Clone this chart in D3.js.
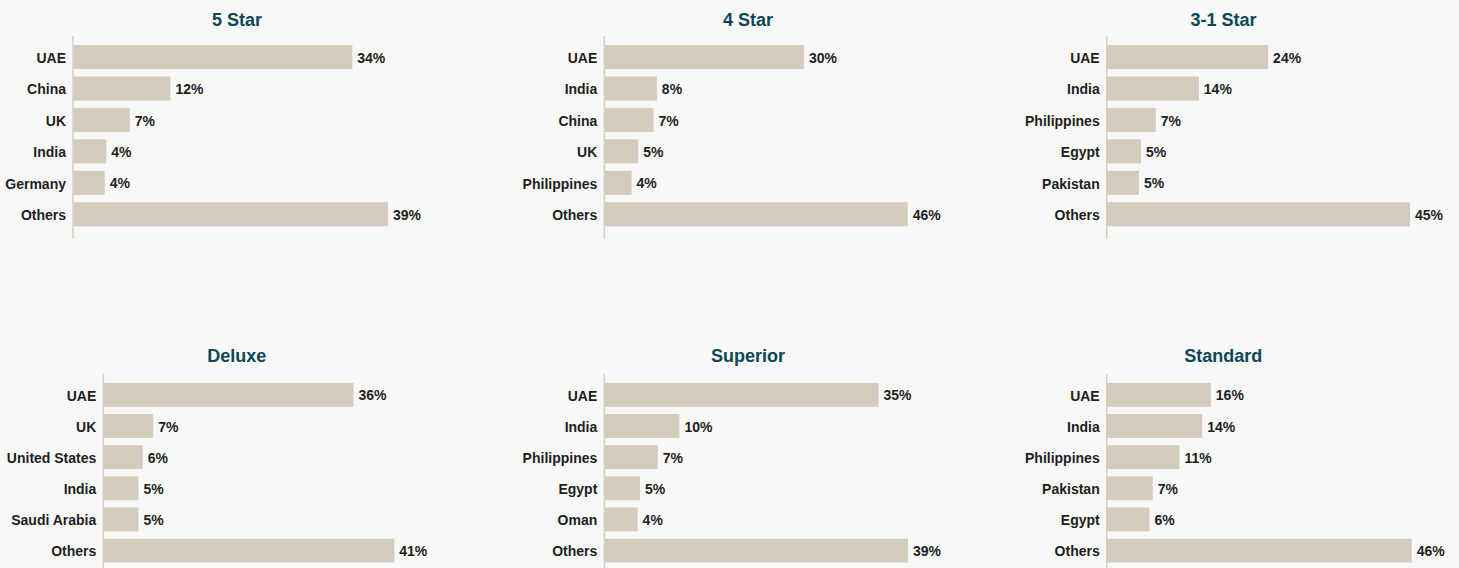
<!DOCTYPE html>
<html>
<head>
<meta charset="utf-8">
<script src="https://cdn.jsdelivr.net/npm/d3@7"></script>
<style>
  html, body { margin: 0; padding: 0; background: #f8f8f8; }
  svg { display: block; font-family: "Liberation Sans", Arial, sans-serif; }
</style>
</head>
<body>
<div id="chart"></div>
<script>
// panel titles
const titles = ["5 Star", "4 Star", "3-1 Star", "Deluxe", "Superior", "Standard"];

// categories per panel
const cats5Star = ["UAE", "China", "UK", "India", "Germany", "Others"];
const cats4Star = ["UAE", "India", "China", "UK", "Philippines", "Others"];
const cats31Star = ["UAE", "India", "Philippines", "Egypt", "Pakistan", "Others"];
const catsDeluxe = ["UAE", "UK", "United States", "India", "Saudi Arabia", "Others"];
const catsSuperior = ["UAE", "India", "Philippines", "Egypt", "Oman", "Others"];
const catsStandard = ["UAE", "India", "Philippines", "Pakistan", "Egypt", "Others"];

// share of guests, % (labels shown rounded)
const vals5Star = [34.4, 12.0, 7.0, 4.1, 3.9, 38.8];
const vals4Star = [30.0, 7.9, 7.4, 5.1, 4.1, 45.6];
const vals31Star = [24.0, 13.7, 7.3, 5.1, 4.8, 45.1];
const valsDeluxe = [35.6, 7.1, 5.6, 5.0, 5.0, 41.4];
const valsSuperior = [35.4, 9.7, 6.9, 4.6, 4.3, 39.2];
const valsStandard = [15.6, 14.3, 10.9, 6.9, 6.4, 45.7];

const categories = [cats5Star, cats4Star, cats31Star, catsDeluxe, catsSuperior, catsStandard];
const values = [vals5Star, vals4Star, vals31Star, valsDeluxe, valsSuperior, valsStandard];

const width = 1459, height = 568;

// layout of each small multiple
const layout = [
  {cx: 237, axisX: 73, maxLen: 315, row: 0},
  {cx: 748, axisX: 604.3, maxLen: 303.4, row: 0},
  {cx: 1223.5, axisX: 1106.7, maxLen: 303.3, row: 0},
  {cx: 236.7, axisX: 103.3, maxLen: 291, row: 1},
  {cx: 748, axisX: 604.3, maxLen: 303.7, row: 1},
  {cx: 1223.3, axisX: 1106.7, maxLen: 305, row: 1}
];
const rows = [
  {titleY: 26, axisTop: 36, axisBottom: 239, bandTop: 45, bandBottom: 226.3},
  {titleY: 362, axisTop: 374, axisBottom: 577, bandTop: 382.9, bandBottom: 562.5}
];

const svg = d3.select("#chart").append("svg")
  .attr("width", width)
  .attr("height", height)
  .attr("viewBox", [0, 0, width, height]);

svg.append("rect")
  .attr("width", width)
  .attr("height", height)
  .attr("fill", "#f8f8f8");

const fmt = d => d3.format(".0f")(d) + "%";

titles.forEach((title, i) => {
  const L = layout[i], R = rows[L.row];
  const data = categories[i].map((c, j) => ({cat: c, value: values[i][j]}));

  let x = d3.scaleLinear()
    .domain([0, d3.max(data, d => d.value)])
    .range([L.axisX, L.axisX + L.maxLen]);

  let y = d3.scaleBand()
    .domain(data.map(d => d.cat))
    .range([R.bandTop, R.bandBottom])
    .paddingInner(0.235)
    .paddingOuter(0);

  const g = svg.append("g");

  g.append("text")
    .attr("x", L.cx)
    .attr("y", R.titleY)
    .attr("text-anchor", "middle")
    .attr("fill", "#0d4757")
    .attr("font-size", 18)
    .attr("font-weight", "bold")
    .text(title);

  g.selectAll("rect.bar")
    .data(data)
    .join("rect")
    .attr("class", "bar")
    .attr("x", x(0))
    .attr("y", d => y(d.cat))
    .attr("width", d => x(d.value) - x(0))
    .attr("height", y.bandwidth())
    .attr("fill", "#d3cbbc");

  // category axis, tick labels only plus a plain vertical line
  const gy = g.append("g")
    .attr("transform", `translate(${L.axisX},0)`)
    .call(d3.axisLeft(y).tickSize(0).tickPadding(7))
    .call(g => g.select(".domain").remove());
  gy.selectAll(".tick text")
    .attr("dy", "0.42em")
    .attr("font-size", 14)
    .attr("font-weight", "bold")
    .attr("font-family", "'Liberation Sans', Arial, sans-serif")
    .attr("fill", "#1e1e1e");

  g.append("line")
    .attr("x1", L.axisX).attr("x2", L.axisX)
    .attr("y1", R.axisTop).attr("y2", R.axisBottom)
    .attr("stroke", "#d8cfc0")
    .attr("stroke-width", 1.5);

  g.selectAll("text.value")
    .data(data)
    .join("text")
    .attr("class", "value")
    .attr("x", d => x(d.value) + 5)
    .attr("y", d => y(d.cat) + y.bandwidth() / 2)
    .attr("dy", "0.4em")
    .attr("font-size", 14)
    .attr("font-weight", "bold")
    .attr("fill", "#1e1e1e")
    .text(d => fmt(d.value));
});
</script>
</body>
</html>
